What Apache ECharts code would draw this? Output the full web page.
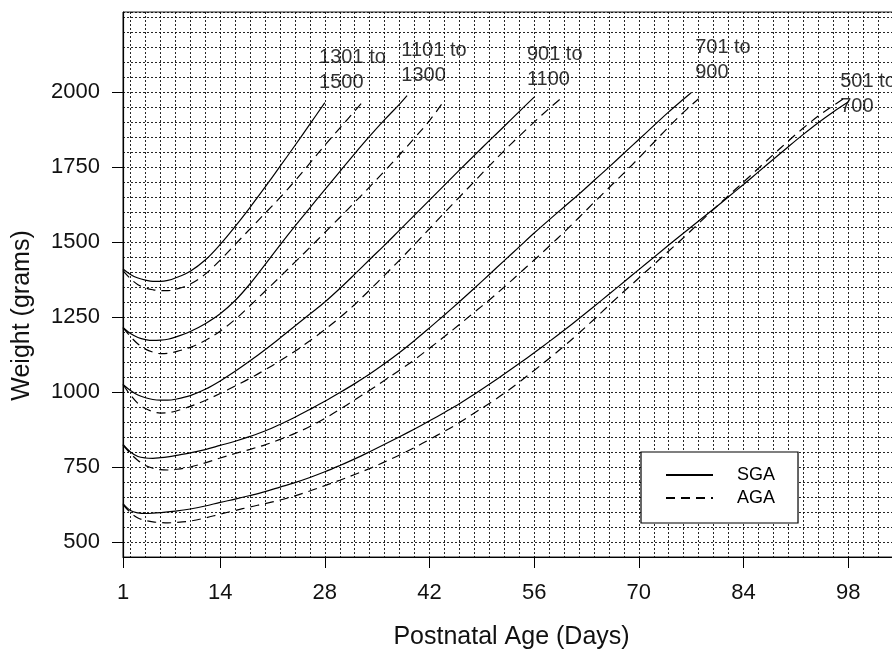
<!DOCTYPE html>
<html><head><meta charset="utf-8">
<script src="https://cdn.jsdelivr.net/npm/echarts@6/dist/echarts.min.js"></script>
<style>html,body{margin:0;padding:0;background:#fff}#c{width:892px;height:650px}</style>
</head><body><div id="c"></div>
<script>
// ---- tick labels / grid positions ----
const xTickLabels = [1, 14, 28, 42, 56, 70, 84, 98];
const yTickLabels = [500, 750, 1000, 1250, 1500, 1750, 2000];
const xGridDays = [2,4,6,8,10,12,14,16,18,20,22,24,26,28,30,32,34,36,38,40,42,44,46,48,50,52,54,56,58,60,62,64,66,68,70,72,74,76,78,80,82,84,86,88,90,92,94,96,98,100,102,104];

// ---- curve labels ----
const labelTexts = ['1301 to\n1500', '1101 to\n1300', '901 to\n1100', '701 to\n900', '501 to\n700'];
const labelDays = [27.3, 38.3, 55.1, 77.6, 97.0];
const labelWeights = [2155, 2178, 2165, 2188, 2075];

// ---- series data [day, grams] ----
const sga1301 = [[1,1410],[2,1392],[3,1380],[4,1373],[5,1369],[6,1369],[7,1372],[8,1380],[10,1403],[12,1440],[14,1492],[16,1552],[18,1616],[20,1683],[22,1752],[24,1822],[26,1893],[28,1965]];
const aga1301 = [[1,1405],[2,1378],[3,1358],[4,1347],[5,1341],[6,1338],[7,1338],[8,1342],[10,1360],[12,1393],[14,1440],[16,1492],[18,1544],[20,1596],[22,1648],[24,1704],[26,1763],[28,1823],[30,1880],[32,1937],[33,1966]];
const sga1101 = [[1,1215],[2,1195],[3,1182],[4,1175],[5,1172],[6,1173],[7,1176],[8,1183],[10,1202],[12,1228],[14,1261],[16,1305],[18,1361],[20,1425],[22,1490],[24,1553],[26,1614],[28,1675],[30,1735],[32,1795],[34,1853],[36,1908],[38,1960],[39,1988]];
const aga1101 = [[1,1215],[2,1185],[3,1160],[4,1143],[5,1133],[6,1128],[7,1129],[8,1134],[10,1149],[12,1172],[14,1203],[16,1242],[18,1288],[20,1336],[22,1384],[24,1433],[26,1482],[28,1532],[30,1582],[32,1633],[34,1684],[36,1737],[38,1791],[40,1847],[42,1905],[43.7,1962]];
const sga901 = [[1,1025],[2,1005],[3,990],[4,981],[5,975],[6,973],[7,973],[8,976],[10,988],[12,1009],[14,1037],[16,1069],[18,1104],[20,1141],[22,1180],[24,1220],[26,1260],[28,1300],[30,1345],[32,1393],[34,1442],[36,1490],[38,1540],[40,1590],[42,1640],[44,1690],[46,1740],[48,1789],[50,1838],[52,1886],[54,1935],[56,1983]];
const aga901 = [[1,1025],[2,990],[3,962],[4,945],[5,935],[6,930],[7,931],[8,936],[10,952],[12,972],[14,995],[16,1020],[18,1046],[20,1074],[22,1104],[24,1136],[26,1171],[28,1208],[30,1248],[32,1292],[34,1340],[36,1390],[38,1440],[40,1492],[42,1545],[44,1598],[46,1650],[48,1702],[50,1754],[52,1805],[54,1853],[56,1900],[58,1945],[60,1988]];
const sga701 = [[1,825],[2,800],[3,785],[4,780],[5,779],[6,781],[7,784],[8,788],[10,797],[12,808],[14,822],[16,836],[18,852],[20,870],[22,892],[24,916],[26,942],[28,969],[30,998],[32,1028],[34,1060],[36,1095],[38,1132],[40,1172],[42,1214],[44,1257],[46,1301],[48,1346],[50,1392],[52,1438],[54,1484],[56,1530],[58,1574],[60,1617],[62,1660],[64,1705],[66,1750],[68,1796],[70,1842],[72,1888],[74,1934],[76,1977],[77,1998]];
const aga701 = [[1,823],[2,795],[3,772],[4,755],[5,746],[6,741],[7,740],[8,742],[10,750],[12,764],[14,780],[16,795],[18,809],[20,824],[22,842],[24,862],[26,885],[28,912],[30,942],[32,974],[34,1006],[36,1039],[38,1073],[40,1108],[42,1146],[44,1185],[46,1225],[48,1266],[50,1307],[52,1350],[54,1395],[56,1440],[58,1486],[60,1533],[62,1582],[64,1632],[66,1681],[68,1730],[70,1780],[72,1832],[74,1884],[76,1933],[78,1978]];
const sga501 = [[1,628],[2,605],[3,597],[4,595],[5,596],[6,598],[8,603],[10,610],[12,620],[14,632],[16,643],[18,655],[20,668],[22,683],[24,698],[26,715],[28,734],[30,755],[32,777],[34,801],[36,826],[38,851],[40,877],[42,904],[44,932],[46,961],[48,993],[50,1026],[52,1060],[54,1095],[56,1131],[58,1168],[60,1206],[62,1245],[64,1285],[66,1326],[68,1367],[70,1408],[72,1449],[74,1490],[76,1530],[78,1570],[80,1610],[82,1651],[84,1692],[86,1734],[88,1776],[90,1818],[92,1859],[94,1898],[96,1934],[98,1967]];
const aga501 = [[1,625],[2,598],[3,580],[4,572],[5,567],[6,565],[7,564],[8,565],[10,570],[12,580],[14,593],[16,605],[18,617],[20,628],[22,640],[24,654],[26,670],[28,688],[30,706],[32,725],[34,745],[36,767],[38,790],[40,815],[42,842],[44,869],[46,898],[48,930],[50,962],[52,996],[54,1033],[56,1072],[58,1112],[60,1153],[62,1197],[64,1242],[66,1289],[68,1335],[70,1380],[72,1425],[74,1470],[76,1515],[78,1562],[80,1609],[82,1655],[84,1700],[86,1746],[88,1792],[90,1837],[92,1880],[94,1920],[96,1955],[98,1988]];

const sgaSets = [sga1301, sga1101, sga901, sga701, sga501];
const agaSets = [aga1301, aga1101, aga901, aga701, aga501];

const FONT = '"Liberation Sans", Arial, Helvetica, sans-serif';
const X_MIN = 1, X_MAX = 104, Y_MIN = 450, Y_MAX = 2267;

const lineSeries = (name, data, dashed) => ({
  name, type: 'line', data, xAxisIndex: 0, yAxisIndex: 0,
  symbol: 'none', smooth: 0.35, silent: true, z: 3,
  itemStyle: { color: '#000' },
  lineStyle: { color: '#000', width: 1.2, type: dashed ? [9, 6] : 'solid' }
});

const series = [];
sgaSets.forEach(d => series.push(lineSeries('SGA', d, false)));
agaSets.forEach(d => series.push(lineSeries('AGA', d, true)));
series.push({
  type: 'scatter', name: 'labels', xAxisIndex: 0, yAxisIndex: 0,
  symbolSize: 1, itemStyle: { color: 'transparent' }, silent: true, z: 4,
  data: labelDays.map((d, i) => ({ value: [d, labelWeights[i]], name: labelTexts[i] })),
  label: {
    show: true, position: [0, 0], align: 'left', verticalAlign: 'top',
    formatter: p => p.name, color: '#000', fontFamily: FONT, fontSize: 20, lineHeight: 25,
    textBorderWidth: 0
  }
});

const chart = echarts.init(document.getElementById('c'), null, { renderer: 'canvas' });
chart.setOption({
  animation: false,
  backgroundColor: '#fff',
  grid: { left: 123, top: 12, width: 770, height: 545, outerBoundsMode: 'none', containLabel: false,
          show: true, borderColor: '#222', borderWidth: 1, backgroundColor: 'transparent' },
  legend: {
    data: ['SGA', 'AGA'], orient: 'vertical', left: 641, top: 452,
    padding: [14, 23, 16, 24], itemGap: 5, itemWidth: 47, itemHeight: 14,
    backgroundColor: '#fff', borderColor: '#000', borderWidth: 1.2,
    itemStyle: { color: 'transparent', opacity: 0, borderWidth: 0 },
    textStyle: { fontFamily: FONT, fontSize: 18, color: '#000', padding: [0, 0, 0, 19] },
    selectedMode: false, z: 10
  },
  xAxis: [
    {
      type: 'value', min: X_MIN, max: X_MAX, position: 'bottom',
      name: 'Postnatal Age (Days)', nameLocation: 'middle', nameGap: 68,
      nameTextStyle: { fontFamily: FONT, fontSize: 25, color: '#111', padding: [0, 0, 0, 7] },
      axisLine: { show: true, lineStyle: { color: '#000', width: 1.2 } },
      axisTick: { show: true, customValues: xTickLabels, length: 11, lineStyle: { color: '#000' } },
      axisLabel: { customValues: xTickLabels, fontFamily: FONT, fontSize: 22, color: '#111', margin: 25, formatter: v => String(v) },
      splitLine: { show: false }
    },
    {
      type: 'value', min: X_MIN, max: X_MAX, position: 'bottom',
      axisLine: { show: false }, axisLabel: { show: false },
      axisTick: { show: false, customValues: xGridDays },
      splitLine: { show: true, lineStyle: { color: '#000', width: 1, type: [2, 2], opacity: 0.85 } }
    }
  ],
  yAxis: [
    {
      type: 'value', min: Y_MIN, max: Y_MAX, position: 'left',
      name: 'Weight (grams)', nameLocation: 'middle', nameGap: 88,
      nameTextStyle: { fontFamily: FONT, fontSize: 25, color: '#111', padding: [0, 62, 0, 0] },
      axisLine: { show: true, lineStyle: { color: '#000', width: 1.2 } },
      axisTick: { show: true, customValues: yTickLabels, length: 11, lineStyle: { color: '#000' } },
      axisLabel: { customValues: yTickLabels, fontFamily: FONT, fontSize: 22, color: '#111', margin: 23, formatter: v => String(v) },
      splitLine: { show: false }
    },
    {
      type: 'value', min: Y_MIN, max: Y_MAX, interval: 50, position: 'left',
      axisLine: { show: false }, axisLabel: { show: false }, axisTick: { show: false },
      splitLine: { show: true, lineStyle: { color: '#000', width: 1, type: [2, 2], opacity: 0.85 } }
    }
  ],
  series
});
</script></body></html>
